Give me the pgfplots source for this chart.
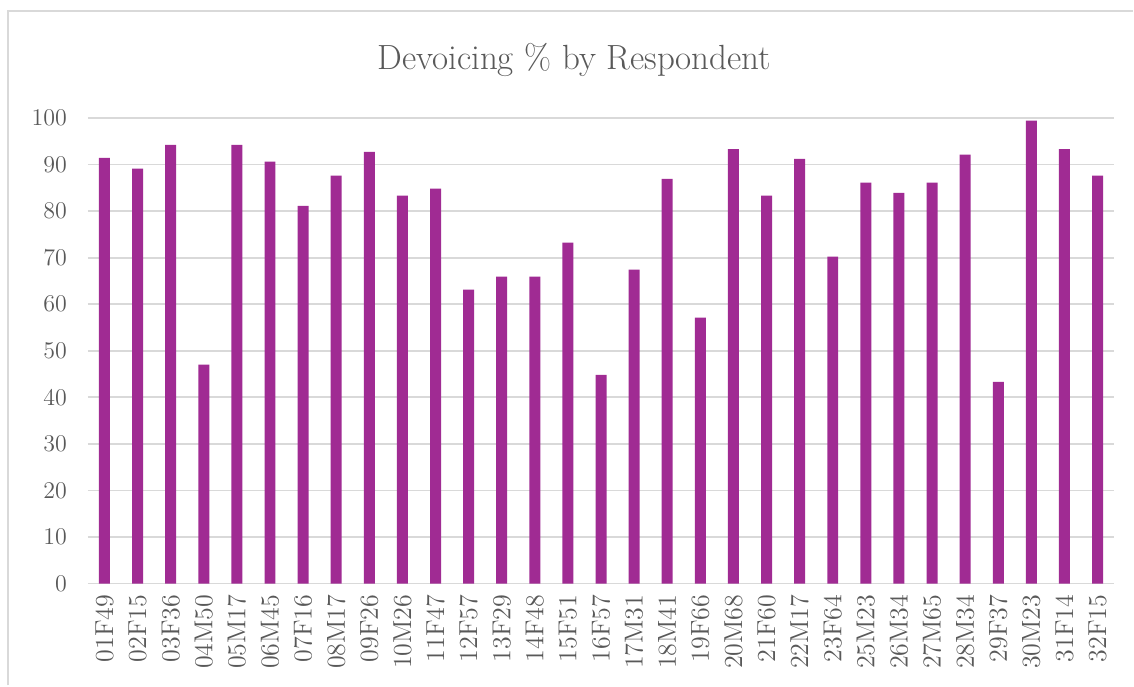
\documentclass[border=0pt]{standalone}
\usepackage{pgfplots}
\pgfplotsset{compat=1.18}
\usepackage{pgfplotstable}

\definecolor{barpurple}{HTML}{A02B93}
\definecolor{txtgray}{HTML}{595959}
\definecolor{gridgray}{HTML}{D9D9D9}

% devoicing percentage per respondent
\pgfplotstableread{
idx val
0  91.4
1  89.1
2  94.2
3  47.0
4  94.2
5  90.6
6  81.1
7  87.6
8  92.7
9  83.3
10 84.8
11 63.1
12 65.9
13 65.9
14 73.2
15 44.8
16 67.4
17 86.9
18 57.1
19 93.3
20 83.3
21 91.2
22 70.2
23 86.1
24 83.9
25 86.1
26 92.1
27 43.3
28 99.4
29 93.3
30 87.6
}\devoicing

\begin{document}
\begin{tikzpicture}
\begin{axis}[
    name=ax,
    scale only axis,
    width=513.5pt,
    height=233pt,
    ybar,
    bar width=5.5pt,
    xmin=-0.5, xmax=30.5,
    ymin=0, ymax=100,
    ytick={0,10,...,100},
    xtick=data,
    xticklabels={01F49,02F15,03F36,04M50,05M17,06M45,07F16,08M17,09F26,10M26,11F47,12F57,13F29,14F48,15F51,16F57,17M31,18M41,19F66,20M68,21F60,22M17,23F64,25M23,26M34,27M65,28M34,29F37,30M23,31F14,32F15},
    x tick label style={rotate=90, anchor=east, font=\fontsize{13}{15}\selectfont, text=txtgray},
    y tick label style={font=\fontsize{11.5}{13}\selectfont, text=txtgray},
    xticklabel shift=2pt,
    yticklabel shift=7pt,
    major tick length=0pt,
    axis line style={draw=none},
    ymajorgrids=true,
    grid style={gridgray, line width=0.9pt},
    title={Devoicing \% by Respondent},
    title style={at={(axis description cs:0.474,1)}, anchor=center, yshift=23pt,
        font=\fontsize{17.5}{20}\selectfont, text=txtgray},
]
\addplot[fill=barpurple, draw=none] table[x=idx, y=val] {\devoicing};
\end{axis}
% chart frame (left and top edges visible in the reference crop)
\draw[gridgray, line width=0.9pt] ([xshift=-40pt, yshift=-51pt]ax.south west) -- ([xshift=-40pt, yshift=286.5pt]ax.south west) -- ([xshift=523pt, yshift=286.5pt]ax.south west);
\path[use as bounding box] ([xshift=-44pt, yshift=-51pt]ax.south west) rectangle ([xshift=523pt, yshift=292pt]ax.south west);
\end{tikzpicture}
\end{document}
